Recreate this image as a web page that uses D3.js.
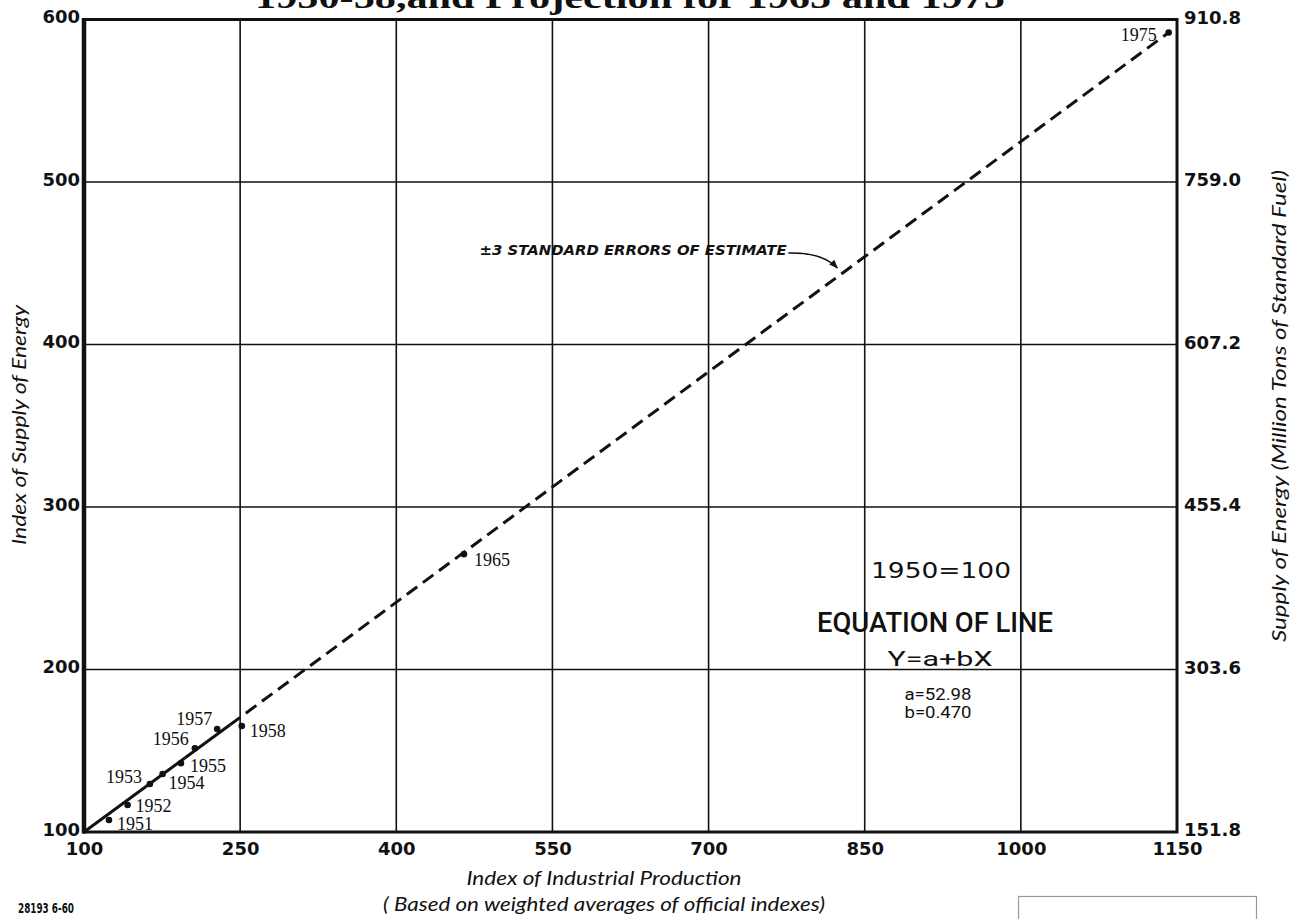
<!DOCTYPE html>
<html><head><meta charset="utf-8">
<script src="https://cdn.jsdelivr.net/npm/d3@7"></script>
<style>body{margin:0;background:#fff} svg{display:block}</style>
</head><body><svg id="c" width="1293" height="919"></svg>
<script>
// ---- data ----
const xTicks = [100, 250, 400, 550, 700, 850, 1000, 1150];
const yTicks = [100, 200, 300, 400, 500, 600];
const yRightTicks = [151.8, 303.6, 455.4, 607.2, 759.0, 910.8];
const years = ["1951","1952","1953","1954","1955","1956","1957","1958","1965","1975"];
const industrialIndex = [124, 141.9, 163.3, 175.5, 193.1, 206.5, 227.9, 251.6, 465, 1142];
const energyIndex = [107.4, 116.6, 129.5, 135.7, 142.3, 151.5, 163.4, 165.2, 271, 592];
const fitSolidX = [100, 240];
const fitSolidY = [100, 165.8];
const fitDashX = [240, 1142];
const fitDashY = [165.8, 592];

// ---- layout ----
const W = 1293, H = 919;
const L = 84, R = 1177, T = 19.5, B = 832;
const labelPlace = {
  "1951": [8, 10, "start"], "1952": [8, 7, "start"], "1953": [-8, -1, "end"],
  "1954": [6, 15, "start"], "1955": [9, 9, "start"], "1956": [-6, -3, "end"],
  "1957": [-5, -4, "end"], "1958": [8, 11, "start"], "1965": [10, 12, "start"],
  "1975": [-12, 8, "end"]
};

const svg = d3.select("#c");
svg.append("rect").attr("width", W).attr("height", H).attr("fill", "#fff");

const x = d3.scaleLinear().domain([100, 1150]).range([L, R]);
const y = d3.scaleLinear().domain([100, 600]).range([B, T]);
const yR = d3.scaleLinear().domain([151.8, 910.8]).range([B, T]);

const ink = "#111";
const tickFont = "'DejaVu Sans', sans-serif";

// title (cut at top)
svg.append("text").attr("x", 630).attr("y", 8).attr("text-anchor", "middle")
  .attr("font-family", "'Liberation Serif', serif").attr("font-weight", "bold")
  .attr("font-size", 32).attr("fill", ink)
  .attr("textLength", 750).attr("lengthAdjust", "spacingAndGlyphs")
  .text("1950-58,and Projection for 1965 and 1975");

// gridlines
const g = svg.append("g");
g.selectAll("line.vx").data(xTicks.slice(1, -1)).join("line")
  .attr("x1", d => x(d)).attr("x2", d => x(d)).attr("y1", T).attr("y2", B)
  .attr("stroke", ink).attr("stroke-width", 1.6);
g.selectAll("line.hy").data(yTicks.slice(1, -1)).join("line")
  .attr("x1", L).attr("x2", R).attr("y1", d => y(d)).attr("y2", d => y(d))
  .attr("stroke", ink).attr("stroke-width", 1.6);

// frame
svg.append("rect").attr("x", L).attr("y", T).attr("width", R - L).attr("height", B - T)
  .attr("fill", "none").attr("stroke", ink).attr("stroke-width", 3);
svg.append("line").attr("x1", L).attr("x2", L).attr("y1", T - 1.5).attr("y2", B + 1.5)
  .attr("stroke", ink).attr("stroke-width", 4.5);

// axes (labels only)
function styleAxis(sel, dy) {
  sel.select(".domain").remove();
  sel.selectAll(".tick line").remove();
  sel.selectAll("text").attr("font-family", tickFont).attr("font-weight", "bold")
    .attr("font-size", 18).attr("fill", ink);
  if (dy) sel.selectAll("text").attr("dy", dy);
}
svg.append("g").attr("transform", `translate(${L},0)`)
  .call(d3.axisLeft(y).tickValues(yTicks).tickSize(0).tickPadding(4).tickFormat(d3.format("d")))
  .call(styleAxis, "0.18em");
svg.append("g").attr("transform", `translate(${R},0)`)
  .call(d3.axisRight(yR).tickValues(yRightTicks).tickSize(0).tickPadding(7).tickFormat(d3.format(".1f")))
  .call(styleAxis, "0.22em");
svg.append("g").attr("transform", `translate(0,${B})`)
  .call(d3.axisBottom(x).tickValues(xTicks).tickSize(0).tickPadding(10).tickFormat(d3.format("d")))
  .call(styleAxis);

// axis titles
const titleFont = "Lato, 'Open Sans', sans-serif";
svg.append("text").attr("transform", "translate(26,425) rotate(-90)")
  .attr("text-anchor", "middle").attr("font-family", titleFont).attr("font-style", "italic")
  .attr("font-size", 20).attr("fill", ink).attr("textLength", 240).attr("lengthAdjust", "spacingAndGlyphs")
  .text("Index of Supply of Energy");
svg.append("text").attr("transform", "translate(1286,406) rotate(-90)")
  .attr("text-anchor", "middle").attr("font-family", titleFont).attr("font-style", "italic")
  .attr("font-size", 20).attr("fill", ink).attr("textLength", 472).attr("lengthAdjust", "spacingAndGlyphs")
  .text("Supply of Energy (Million Tons of Standard Fuel)");
svg.append("text").attr("x", 604).attr("y", 885).attr("text-anchor", "middle")
  .attr("font-family", titleFont).attr("font-style", "italic").attr("font-size", 20)
  .attr("fill", ink).attr("textLength", 275).attr("lengthAdjust", "spacingAndGlyphs")
  .text("Index of Industrial Production");
svg.append("text").attr("x", 604).attr("y", 911).attr("text-anchor", "middle")
  .attr("font-family", titleFont).attr("font-style", "italic").attr("font-size", 20)
  .attr("fill", ink).attr("textLength", 442).attr("lengthAdjust", "spacingAndGlyphs")
  .text("( Based on weighted averages of official indexes)");

svg.append("text").attr("x", 18).attr("y", 913)
  .attr("font-family", "'DejaVu Sans Condensed', 'DejaVu Sans', sans-serif").attr("font-size", 14)
  .attr("font-weight", "bold")
  .attr("fill", ink).attr("textLength", 56).attr("lengthAdjust", "spacingAndGlyphs").text("28193 6-60");

svg.append("rect").attr("x", 1018.5).attr("y", 896.5).attr("width", 238).attr("height", 30)
  .attr("fill", "none").attr("stroke", "#999").attr("stroke-width", 1.2);

// fit line
const line = d3.line().x(d => x(d[0])).y(d => y(d[1]));
svg.append("path").datum(d3.zip(fitSolidX, fitSolidY)).attr("d", line)
  .attr("fill", "none").attr("stroke", ink).attr("stroke-width", 3);
svg.append("path").datum(d3.zip(fitDashX, fitDashY)).attr("d", line)
  .attr("fill", "none").attr("stroke", ink).attr("stroke-width", 3)
  .attr("stroke-dasharray", "13,7");

// points and labels
const pts = years.map((yr, i) => ({ yr, X: industrialIndex[i], Y: energyIndex[i] }));
svg.selectAll("circle.pt").data(pts).join("circle")
  .attr("cx", d => x(d.X)).attr("cy", d => y(d.Y)).attr("r", 3.3).attr("fill", ink);
svg.selectAll("text.yr").data(pts).join("text")
  .attr("x", d => x(d.X) + labelPlace[d.yr][0]).attr("y", d => y(d.Y) + labelPlace[d.yr][1])
  .attr("text-anchor", d => labelPlace[d.yr][2])
  .attr("font-family", "'Liberation Serif', serif").attr("font-size", 18).attr("fill", ink)
  .text(d => d.yr);

// annotation
svg.append("defs").append("marker").attr("id", "ah").attr("viewBox", "0 0 10 10")
  .attr("refX", 9).attr("refY", 5).attr("markerWidth", 9).attr("markerHeight", 9)
  .attr("markerUnits", "userSpaceOnUse").attr("orient", "auto")
  .append("path").attr("d", "M0,1 L10,5 L0,9 Z").attr("fill", ink);
svg.append("text").attr("x", x(480)).attr("y", y(455))
  .attr("font-family", "'DejaVu Sans', sans-serif").attr("font-weight", "bold")
  .attr("font-style", "italic").attr("font-size", 13.5).attr("fill", ink)
  .attr("textLength", 307).attr("lengthAdjust", "spacingAndGlyphs")
  .text("±3 STANDARD ERRORS OF ESTIMATE");
const a0 = [776.6, 456.3], ac = [809, 456.9], a1 = [823.7, 447.1];
svg.append("path")
  .attr("d", `M${x(a0[0])},${y(a0[1])} Q${x(ac[0])},${y(ac[1])} ${x(a1[0])},${y(a1[1])}`)
  .attr("fill", "none").attr("stroke", ink).attr("stroke-width", 1.6)
  .attr("marker-end", "url(#ah)");

// equation block
svg.append("text").attr("x", 941).attr("y", 578).attr("text-anchor", "middle")
  .attr("font-family", "'DejaVu Sans', sans-serif").attr("font-size", 22).attr("fill", ink)
  .attr("textLength", 140).attr("lengthAdjust", "spacingAndGlyphs").text("1950=100");
svg.append("text").attr("x", 935).attr("y", 632).attr("text-anchor", "middle")
  .attr("font-family", "Roboto, sans-serif").attr("font-weight", 500).attr("font-size", 28)
  .attr("fill", ink).attr("textLength", 236).attr("lengthAdjust", "spacingAndGlyphs")
  .text("EQUATION OF LINE");
svg.append("text").attr("x", 940).attr("y", 666).attr("text-anchor", "middle")
  .attr("font-family", "Roboto, sans-serif").attr("font-size", 21).attr("fill", ink)
  .attr("textLength", 105).attr("lengthAdjust", "spacingAndGlyphs").text("Y=a+bX");
svg.append("text").attr("x", 938).attr("y", 700).attr("text-anchor", "middle")
  .attr("font-family", "Roboto, sans-serif").attr("font-size", 16).attr("fill", ink)
  .attr("textLength", 67).attr("lengthAdjust", "spacingAndGlyphs").text("a=52.98");
svg.append("text").attr("x", 938).attr("y", 718).attr("text-anchor", "middle")
  .attr("font-family", "Roboto, sans-serif").attr("font-size", 16).attr("fill", ink)
  .attr("textLength", 67).attr("lengthAdjust", "spacingAndGlyphs").text("b=0.470");
</script></body></html>
